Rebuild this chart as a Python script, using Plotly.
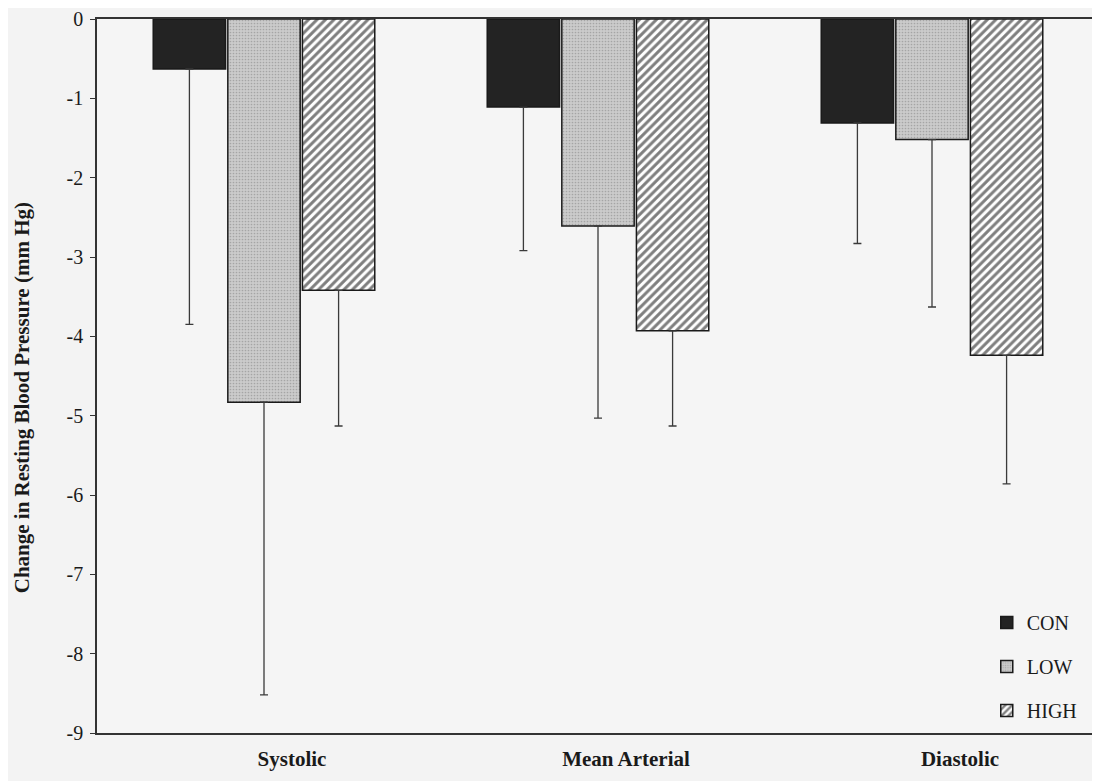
import plotly.graph_objects as go

categories = ["Systolic", "Mean Arterial", "Diastolic"]
con_mean = [-0.63, -1.11, -1.31]
low_mean = [-4.83, -2.61, -1.52]
high_mean = [-3.42, -3.93, -4.24]
con_err = [3.22, 1.81, 1.52]
low_err = [3.69, 2.42, 2.11]
high_err = [1.71, 1.20, 1.62]
y_ticks = [0, -1, -2, -3, -4, -5, -6, -7, -8, -9]
y_tick_labels = ["0", "-1", "-2", "-3", "-4", "-5", "-6", "-7", "-8", "-9"]
y_title = "Change in Resting Blood Pressure (mm Hg)"

font_family = "Liberation Serif, Times New Roman, serif"
err_style = dict(type="data", symmetric=False, thickness=1.3, width=4, color="#3a3a3a")

fig = go.Figure()
fig.add_trace(go.Bar(
    name="CON", x=categories, y=con_mean, legendgroup="a",
    marker=dict(color="#232323", line=dict(color="#1a1a1a", width=1.5)),
    error_y=dict(array=[0, 0, 0], arrayminus=con_err, **err_style),
))
fig.add_trace(go.Bar(
    name="LOW", x=categories, y=low_mean, legendgroup="b",
    marker=dict(color="#c4c4c4", line=dict(color="#1a1a1a", width=1.5),
                pattern=dict(shape=".", fgcolor="#808080", bgcolor="#cbcbcb",
                             size=3, solidity=0.25)),
    error_y=dict(array=[0, 0, 0], arrayminus=low_err, **err_style),
))
fig.add_trace(go.Bar(
    name="HIGH", x=categories, y=high_mean, legendgroup="c",
    marker=dict(color="#ffffff", line=dict(color="#1a1a1a", width=1.5),
                pattern=dict(shape="/", fgcolor="#000000", bgcolor="#ffffff",
                             size=6, solidity=0.5)),
    error_y=dict(array=[0, 0, 0], arrayminus=high_err, **err_style),
))

fig.add_annotation(
    text=y_title, textangle=-90, xref="paper", yref="paper",
    x=-0.074, y=0.47, xanchor="center", yanchor="middle", showarrow=False,
    font=dict(size=21, family=font_family, weight="bold", color="#1a1a1a"),
)

fig.update_layout(
    width=1100, height=781,
    margin=dict(l=89, r=9, t=11, b=56),
    paper_bgcolor="#f3f3f3", plot_bgcolor="#f5f5f5",
    barmode="group", bargap=0.33, bargroupgap=0.03,
    font=dict(family=font_family, color="#1a1a1a"),
    showlegend=True,
    legend=dict(x=0.888, y=0.182, xanchor="left", yanchor="top",
                bgcolor="rgba(0,0,0,0)", font=dict(size=20, family=font_family),
                traceorder="grouped", tracegroupgap=15, itemwidth=30),
    xaxis=dict(showline=True, mirror=True, linecolor="#333", linewidth=1.5,
               showgrid=False, ticks="", ticklabelshift=28, ticklabelstandoff=6,
               automargin=False,
               tickfont=dict(size=21, family=font_family, weight="bold")),
    yaxis=dict(range=[-9, 0], tickvals=y_ticks, ticktext=y_tick_labels,
               showline=True, linecolor="#333", automargin=False,
               linewidth=1.5, showgrid=False, zeroline=False, ticks="outside",
               ticklen=5, tickcolor="#333", ticklabelstandoff=3,
               tickfont=dict(size=20, family=font_family)),
)

fig.write_html("out.html")
